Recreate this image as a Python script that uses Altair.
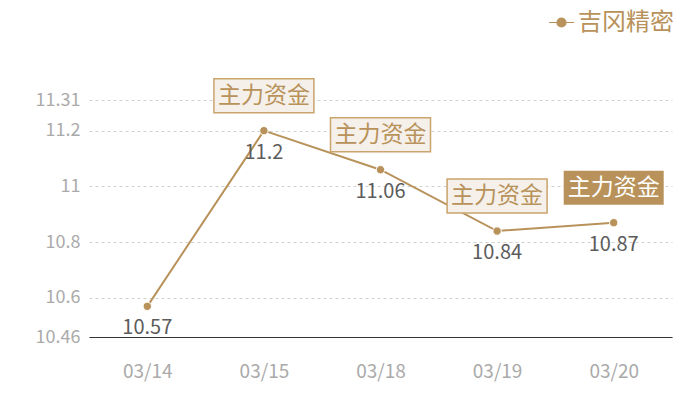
import altair as alt
import pandas as pd

dates = ["03/14", "03/15", "03/18", "03/19", "03/20"]
values = [10.57, 11.2, 11.06, 10.84, 10.87]
series_name = "吉冈精密"
flag_dates = ["03/15", "03/18", "03/19", "03/20"]
flag_text = "主力资金"
highlight_date = "03/20"
y_ticks = [10.46, 10.6, 10.8, 11, 11.2, 11.31]

GOLD = "#b8925a"
FONT = "Noto Sans CJK SC"

df = pd.DataFrame({
    "date": dates,
    "value": values,
    "series": [series_name] * len(dates),
    "flag": [flag_text if d in flag_dates else "" for d in dates],
    "hl": [d == highlight_date for d in dates],
})

x = alt.X("date:N", sort=dates, title=None,
          scale=alt.Scale(type="point", padding=0.5),
          axis=alt.Axis(labelColor="#aaaaaa", labelFontSize=19, labelFont=FONT,
                        labelPadding=25, ticks=False, domainColor="#333333",
                        domainWidth=1, labelAngle=0, grid=False))
y = alt.Y("value:Q", title=None,
          scale=alt.Scale(domain=[10.46, 11.31], nice=False, zero=False),
          axis=alt.Axis(values=y_ticks, labelExpr="format(datum.value, '.2~f')",
                        labelColor="#aaaaaa", labelFontSize=18,
                        labelFont=FONT, labelPadding=9, ticks=False, domain=False,
                        grid=True, gridColor="#d0d0d0", gridDash=[3, 3]))

base = alt.Chart(df)

legend_symbol = "M-1,0H-0.36M0.36,0H1M-0.36,0A0.36,0.36 0 1,0 0.36,0A0.36,0.36 0 1,0 -0.36,0"

line = base.mark_line(strokeWidth=2).encode(
    x=x, y=y,
    color=alt.Color("series:N", scale=alt.Scale(range=[GOLD]),
                    legend=alt.Legend(title=None, orient="none", legendX=459, legendY=-91,
                                      symbolType=legend_symbol, symbolSize=625,
                                      symbolStrokeWidth=1.2, symbolFillColor=GOLD,
                                      labelFontSize=24, labelFont=FONT, labelColor=GOLD,
                                      labelOffset=3, padding=0)),
)

points = base.mark_point(filled=True, size=70, color=GOLD, stroke="white",
                         strokeWidth=1, opacity=1).encode(x=x, y=y)

labels = base.mark_text(dy=22, fontSize=20, font=FONT, color="#5c5c5c",
                        baseline="middle").encode(x=x, y=y, text="value:Q")

flag_base = base.transform_filter(alt.datum.flag != "")

boxes_light = flag_base.transform_filter(alt.datum.hl == False).mark_rect(
    width=100, height=34, yOffset=-35, fill="#f5f0e9", stroke="#c9a46c",
    strokeWidth=1.5).encode(x=x, y=y)
boxes_dark = flag_base.transform_filter(alt.datum.hl == True).mark_rect(
    width=100, height=34, yOffset=-35, fill=GOLD).encode(x=x, y=y)

flag_light_text = flag_base.transform_filter(alt.datum.hl == False).mark_text(
    dy=-35, fontSize=23, font=FONT, color=GOLD, baseline="middle").encode(
    x=x, y=y, text="flag:N")
flag_dark_text = flag_base.transform_filter(alt.datum.hl == True).mark_text(
    dy=-35, fontSize=23, font=FONT, color="white", baseline="middle").encode(
    x=x, y=y, text="flag:N")

chart = alt.layer(line, points, labels, boxes_light, boxes_dark,
                  flag_light_text, flag_dark_text).properties(
    width=583, height=237,
    autosize=alt.AutoSizeParams(type="none"),
    padding={"left": 81, "top": 92, "right": 20, "bottom": 45},
).configure(background="white").configure_view(stroke=None)

chart.save("out.html", embed_options={"renderer": "svg", "actions": False})
